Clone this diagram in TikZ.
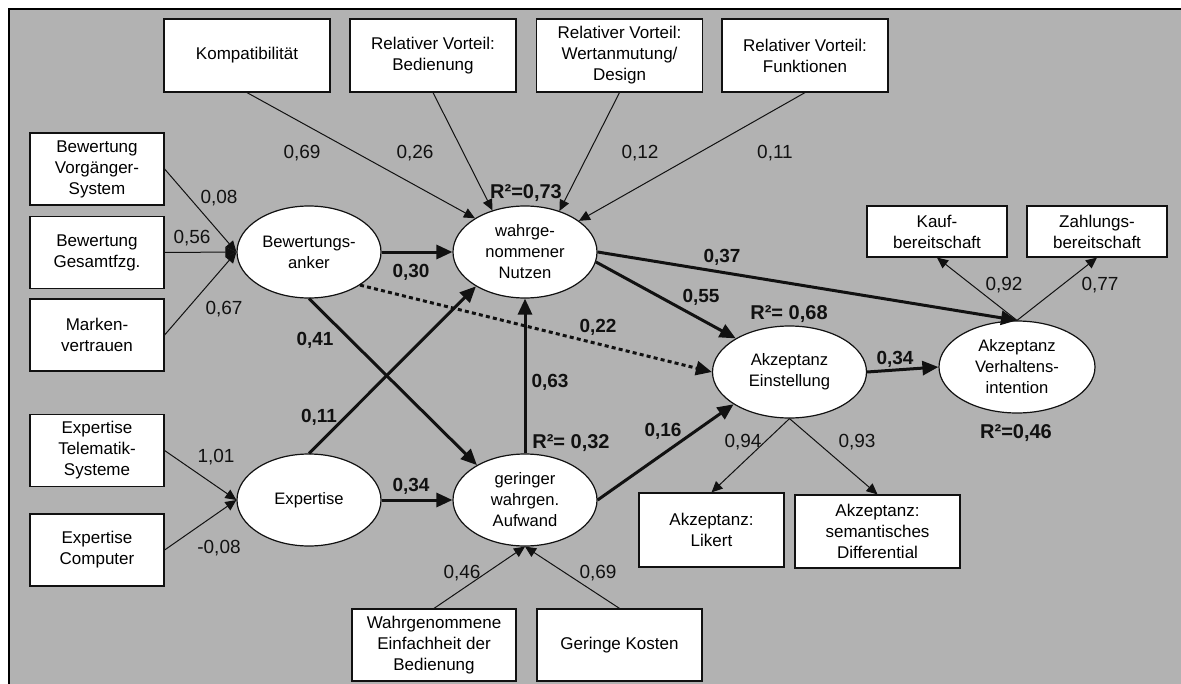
\documentclass[tikz,border=0pt]{standalone}
\usepackage{fontspec}
\setmainfont{Liberation Sans}
\usepackage{tikz}
\usetikzlibrary{arrows.meta,shapes.geometric}
\definecolor{panel}{HTML}{B2B2B2}
\definecolor{ink}{HTML}{111111}
\tikzset{
  ind/.style={rectangle, draw=ink, fill=white, line width=0.6pt, align=center,
    font=\fontsize{8.5}{10.5}\selectfont, inner sep=0pt,
    minimum width=#1, minimum height=36.5pt},
  ind/.default=83pt,
  lat/.style={ellipse, draw=ink, fill=white, line width=0.6pt, align=center,
    font=\fontsize{8.3}{10.5}\selectfont, inner sep=0pt,
    minimum width=#1, minimum height=46pt},
  lat/.default=72pt,
  load/.style={-{Triangle[length=5.5pt,width=5pt]}, line width=0.5pt, color=ink},
  eff/.style={-{Triangle[length=8pt,width=7pt]}, line width=1.5pt, color=ink},
  coef/.style={font=\fontsize{9.5}{11}\selectfont, text=ink, inner sep=0pt},
  coefb/.style={font=\fontsize{9.5}{11}\selectfont\bfseries, text=ink, inner sep=0pt},
  rsq/.style={font=\fontsize{10}{11}\selectfont\bfseries, text=ink, inner sep=0pt},
}
\begin{document}
\begin{tikzpicture}[x=0.5pt, y=-0.5pt]
  \useasboundingbox (0,0) rectangle (1181,684);
  \fill[panel] (9,9) rectangle (1181,684);
  \draw[line width=1pt] (1181,9) -- (9,9) -- (9,684);

  % top indicators
  \node[ind] (komp)   at (247,55.5)   {Kompatibilität};
  \node[ind] (bedien) at (433,55.5)   {Relativer Vorteil:\\Bedienung};
  \node[ind] (wert)   at (619.5,55.5) {Relativer Vorteil:\\Wertanmutung/\\Design};
  \node[ind] (funk)   at (805,55.5)   {Relativer Vorteil:\\Funktionen};

  % left indicators
  \node[ind=67pt, minimum height=36pt] (vorg)   at (97,169)   {Bewertung\\Vorgänger-\\System};
  \node[ind=67pt, minimum height=36pt] (gesamt) at (97,252.5) {Bewertung\\Gesamtfzg.};
  \node[ind=67pt, minimum height=36pt] (marken) at (97,335)   {Marken-\\vertrauen};
  \node[ind=67pt, minimum height=36pt] (telem)  at (97,450.5) {Expertise\\Telematik-\\Systeme};
  \node[ind=67pt, minimum height=36pt] (comp)   at (97,550)   {Expertise\\Computer};

  % bottom indicators
  \node[ind=82pt, minimum height=36pt] (einf)   at (434,645)   {Wahrgenommene\\Einfachheit der\\Bedienung};
  \node[ind=82.5pt, minimum height=36pt] (kost) at (619.5,645) {Geringe Kosten};
  \node[ind=72.5pt, minimum height=37pt] (likert) at (711.5,530) {Akzeptanz:\\Likert};
  \node[ind=82.5pt, minimum height=36.5pt] (diff) at (877.5,531.5) {Akzeptanz:\\semantisches\\Differential};

  % right indicators
  \node[ind=70pt, minimum height=25.5pt] (kauf) at (937,231.5)  {Kauf-\\bereitschaft};
  \node[ind=70pt, minimum height=25.5pt] (zahl) at (1097,231.5) {Zahlungs-\\bereitschaft};

  % latent constructs
  \node[lat] (anker)  at (309,252) {Bewertungs-\\anker};
  \node[lat] (expert) at (309,500) {Expertise};
  \node[lat] (nutzen) at (525,252) {wahrge-\\nommener\\Nutzen};
  \node[lat] (aufw)   at (525,500) {geringer\\wahrgen.\\Aufwand};
  \node[lat=77pt] (einst) at (789.5,372) {Akzeptanz\\Einstellung};
  \node[lat=78pt] (verh)  at (1017,367)  {Akzeptanz\\Verhaltens-\\intention};

  % formative paths
  \draw[load] (komp.south)   -- (nutzen.146);
  \draw[load] (bedien.south) -- (nutzen.128);
  \draw[load] (wert.south)   -- (nutzen.50);
  \draw[load] (funk.south)   -- (nutzen.30);
  \draw[load] (vorg.east)    -- (anker.west);
  \draw[load] (gesamt.east)  -- (anker.west);
  \draw[load] (marken.east)  -- (anker.west);
  \draw[load] (telem.east)   -- (expert.west);
  \draw[load] (comp.east)    -- (expert.west);
  \draw[load] (einf.north)   -- (aufw.south);
  \draw[load] (kost.north)   -- (aufw.south);

  % reflective paths
  \draw[load] (einst.south) -- (likert.north);
  \draw[load] (einst.south) -- (diff.north);
  \draw[load] (verh.north)  -- (kauf.south);
  \draw[load] (verh.north)  -- (zahl.south);

  % structural paths
  \draw[eff] (anker.east)  -- (nutzen.west);
  \draw[eff] (expert.east) -- (aufw.west);
  \draw[eff] (anker.south) -- (aufw.144);
  \draw[eff] (expert.north) -- (nutzen.215);
  \draw[eff] (aufw.north)  -- (nutzen.south);
  \draw[eff] (aufw.east)   -- (einst.210);
  \draw[eff] (nutzen.-8)   -- (einst.148);
  \draw[eff] (nutzen.east) -- (verh.north);
  \draw[eff] (einst.east)  -- (verh.west);
  \draw[eff, dash pattern=on 2pt off 1.6pt] (anker.-33) -- (einst.west);

  % coefficients
  \node[coef] (cKomp)   at (302,153) {0,69};
  \node[coef] (cBedien) at (415,153) {0,26};
  \node[coef] (cWert)   at (640,153) {0,12};
  \node[coef] (cFunk)   at (775,153) {0,11};
  \node[coef] (cVorg)   at (219,198) {0,08};
  \node[coef] (cGesamt) at (192,238) {0,56};
  \node[coef] (cMarken) at (224,309) {0,67};
  \node[coef] (cTelem)  at (216,457) {1,01};
  \node[coef] (cComp)   at (219,548) {-0,08};
  \node[coef] (cEinf)   at (462,573) {0,46};
  \node[coef] (cKost)   at (598,573) {0,69};
  \node[coef] (cLikert) at (743,442) {0,94};
  \node[coef] (cDiff)   at (857,442) {0,93};
  \node[coef] (cKauf)   at (1004,285) {0,92};
  \node[coef] (cZahl)   at (1100,285) {0,77};

  \node[coefb] (bAnkNutz) at (411,272) {0,30};
  \node[coefb] (bExpAufw) at (411,486) {0,34};
  \node[coefb] (bAnkAufw) at (315,340) {0,41};
  \node[coefb] (bExpNutz) at (319,417) {0,11};
  \node[coefb] (bAufNutz) at (550,382) {0,63};
  \node[coefb] (bAnkEins) at (598,327) {0,22};
  \node[coefb] (bAufEins) at (663,431) {0,16};
  \node[coefb] (bNutEins) at (701,297) {0,55};
  \node[coefb] (bNutVerh) at (722,257) {0,37};
  \node[coefb] (bEinVerh) at (895,359) {0,34};

  % explained variance
  \node[rsq] (rNutzen) at (526,193)  {R²=0,73};
  \node[rsq] (rAufw)   at (571,443)  {R²= 0,32};
  \node[rsq] (rEinst)  at (789,314)  {R²= 0,68};
  \node[rsq] (rVerh)   at (1016,433) {R²=0,46};
\end{tikzpicture}
\end{document}
